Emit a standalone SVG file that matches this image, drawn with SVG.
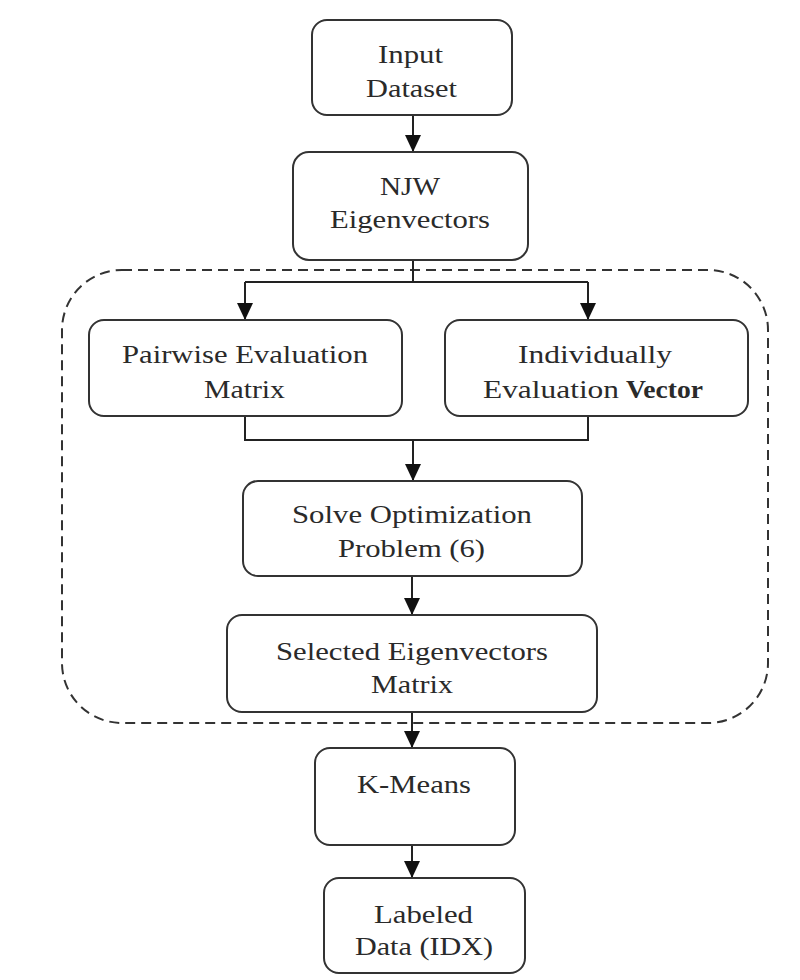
<svg xmlns="http://www.w3.org/2000/svg" width="800" height="980" viewBox="0 0 800 980">
<style>
.box{fill:#fff;stroke:#333;stroke-width:2}
.t{font-family:"Liberation Serif","Times New Roman",serif;font-size:26px;fill:#2a2a2a;text-anchor:start}
.c{fill:none;stroke:#222;stroke-width:2}
.dash{fill:none;stroke:#333;stroke-width:2;stroke-dasharray:10,6}
</style>
<defs>
<marker id="ah" markerUnits="userSpaceOnUse" markerWidth="18" markerHeight="18" refX="17" refY="8" orient="auto">
<path d="M0,0 L17,8 L0,16 Z" fill="#111"/>
</marker>
</defs>
<rect width="800" height="980" fill="#fff"/>
<path class="dash" d="M122,270 H708 A60,60 0 0 1 768,330 V663 A60,60 0 0 1 708,723 H122 A60,60 0 0 1 62,663 V330 A60,60 0 0 1 122,270 Z"/>
<g id="connectors">
<line class="c" x1="413" y1="115" x2="413" y2="152" marker-end="url(#ah)"/>
<polyline class="c" points="413,260 413,282"/>
<polyline class="c" points="245,282 588,282"/>
<line class="c" x1="245" y1="282" x2="245" y2="320" marker-end="url(#ah)"/>
<line class="c" x1="588" y1="282" x2="588" y2="320" marker-end="url(#ah)"/>
<polyline class="c" points="245,416 245,440 588,440 588,416"/>
<line class="c" x1="413" y1="440" x2="413" y2="481" marker-end="url(#ah)"/>
<line class="c" x1="412" y1="576" x2="412" y2="615" marker-end="url(#ah)"/>
<line class="c" x1="412" y1="712" x2="412" y2="748" marker-end="url(#ah)"/>
<line class="c" x1="412" y1="845" x2="412" y2="878" marker-end="url(#ah)"/>
</g>
<g id="input">
<rect class="box" x="312" y="20" width="200" height="95" rx="15"/>
<text class="t" x="378" y="63" textLength="65" lengthAdjust="spacingAndGlyphs">Input</text>
<text class="t" x="366" y="97" textLength="91" lengthAdjust="spacingAndGlyphs">Dataset</text>
</g>
<g id="njw">
<rect class="box" x="293" y="152" width="235" height="108" rx="16"/>
<text class="t" x="380" y="195" textLength="60" lengthAdjust="spacingAndGlyphs">NJW</text>
<text class="t" x="330" y="228" textLength="160" lengthAdjust="spacingAndGlyphs">Eigenvectors</text>
</g>
<g id="pairwise">
<rect class="box" x="89" y="320" width="313" height="96" rx="15"/>
<text class="t" x="122" y="363" textLength="246" lengthAdjust="spacingAndGlyphs">Pairwise Evaluation</text>
<text class="t" x="204" y="398" textLength="81" lengthAdjust="spacingAndGlyphs">Matrix</text>
</g>
<g id="individually">
<rect class="box" x="445" y="320" width="303" height="96" rx="15"/>
<text class="t" x="518" y="363" textLength="154" lengthAdjust="spacingAndGlyphs">Individually</text>
<text class="t" x="483" y="398" textLength="136" lengthAdjust="spacingAndGlyphs">Evaluation</text>
<text class="t" x="626" y="398" textLength="77" lengthAdjust="spacingAndGlyphs" font-weight="bold">Vector</text>
</g>
<g id="solve">
<rect class="box" x="243" y="481" width="339" height="95" rx="15"/>
<text class="t" x="292" y="523" textLength="240" lengthAdjust="spacingAndGlyphs">Solve Optimization</text>
<text class="t" x="338" y="557" textLength="147" lengthAdjust="spacingAndGlyphs">Problem (6)</text>
</g>
<g id="selected">
<rect class="box" x="227" y="615" width="370" height="97" rx="15"/>
<text class="t" x="276" y="660" textLength="272" lengthAdjust="spacingAndGlyphs">Selected Eigenvectors</text>
<text class="t" x="371" y="693" textLength="82" lengthAdjust="spacingAndGlyphs">Matrix</text>
</g>
<g id="kmeans">
<rect class="box" x="315" y="748" width="200" height="97" rx="15"/>
<text class="t" x="357" y="793" textLength="114" lengthAdjust="spacingAndGlyphs">K-Means</text>
</g>
<g id="labeled">
<rect class="box" x="324" y="878" width="201" height="95" rx="15"/>
<text class="t" x="374" y="923" textLength="99" lengthAdjust="spacingAndGlyphs">Labeled</text>
<text class="t" x="355" y="955" textLength="138" lengthAdjust="spacingAndGlyphs">Data (IDX)</text>
</g>
</svg>
